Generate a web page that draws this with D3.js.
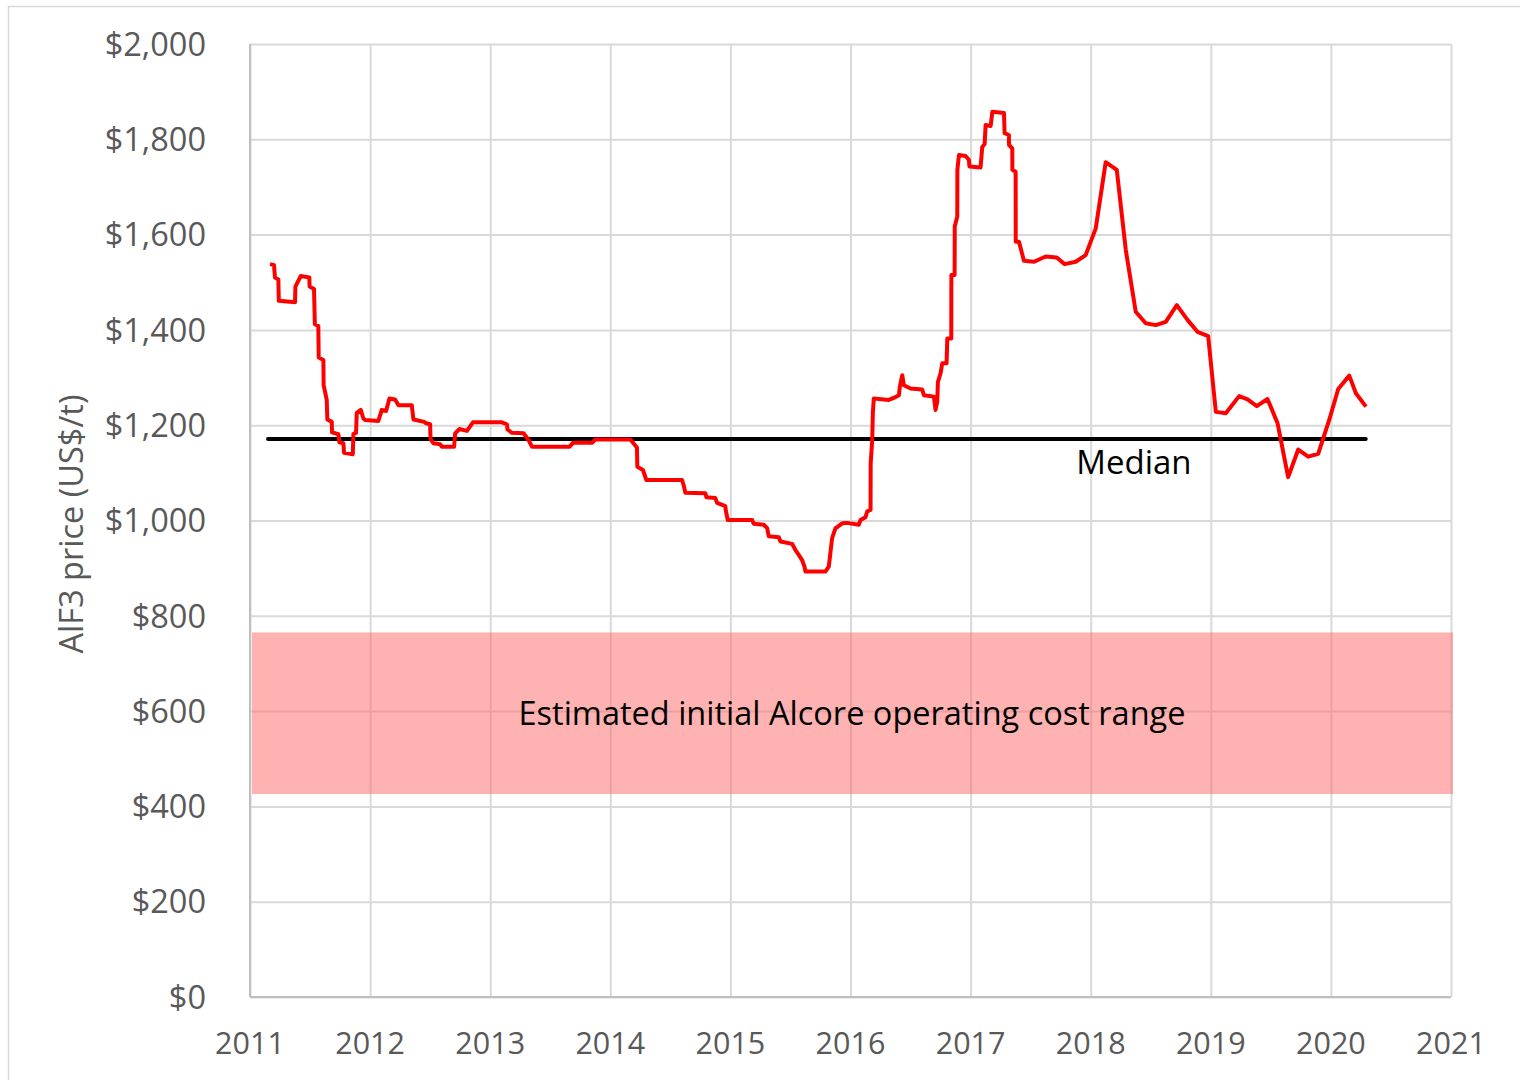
<!DOCTYPE html>
<html>
<head>
<meta charset="utf-8">
<script src="https://cdn.jsdelivr.net/npm/d3@7"></script>
<style>
  body { margin: 0; background: #fff; }
  text { font-family: "Open Sans", "Noto Sans", sans-serif; }
</style>
</head>
<body>
<svg id="chart"></svg>
<script>
// AlF3 price series, [decimal year, US$/t]
var priceDates = [2011.167, 2011.200, 2011.208, 2011.236, 2011.240, 2011.375, 2011.378, 2011.422, 2011.494, 2011.496,
  2011.533, 2011.540, 2011.569, 2011.572, 2011.611, 2011.613, 2011.639, 2011.644, 2011.681, 2011.683,
  2011.736, 2011.744, 2011.778, 2011.783, 2011.856, 2011.861, 2011.883, 2011.889, 2011.922, 2011.944,
  2011.958, 2012.069, 2012.097, 2012.133, 2012.161, 2012.208, 2012.236, 2012.347, 2012.361, 2012.450,
  2012.467, 2012.500, 2012.503, 2012.528, 2012.583, 2012.597, 2012.700, 2012.708, 2012.744, 2012.806,
  2012.856, 2013.097, 2013.139, 2013.144, 2013.181, 2013.278, 2013.319, 2013.347, 2013.661, 2013.689,
  2013.847, 2013.875, 2014.167, 2014.222, 2014.225, 2014.272, 2014.300, 2014.597, 2014.611, 2014.625,
  2014.792, 2014.800, 2014.875, 2014.889, 2014.958, 2014.961, 2014.978, 2015.181, 2015.194, 2015.278,
  2015.306, 2015.319, 2015.403, 2015.417, 2015.514, 2015.542, 2015.569, 2015.597, 2015.617, 2015.625,
  2015.792, 2015.819, 2015.847, 2015.875, 2015.894, 2015.931, 2015.972, 2016.069, 2016.083, 2016.125,
  2016.139, 2016.167, 2016.168, 2016.181, 2016.186, 2016.194, 2016.319, 2016.375, 2016.403, 2016.411,
  2016.431, 2016.444, 2016.500, 2016.597, 2016.611, 2016.694, 2016.708, 2016.722, 2016.728, 2016.750,
  2016.764, 2016.800, 2016.806, 2016.839, 2016.840, 2016.867, 2016.868, 2016.889, 2016.890, 2016.903,
  2016.958, 2016.986, 2016.990, 2017.083, 2017.097, 2017.117, 2017.125, 2017.167, 2017.181, 2017.278,
  2017.283, 2017.319, 2017.320, 2017.347, 2017.348, 2017.375, 2017.376, 2017.403, 2017.444, 2017.528,
  2017.625, 2017.717, 2017.783, 2017.875, 2017.958, 2018.042, 2018.125, 2018.217, 2018.292, 2018.375,
  2018.458, 2018.542, 2018.625, 2018.717, 2018.806, 2018.889, 2018.978, 2019.042, 2019.125, 2019.236,
  2019.306, 2019.383, 2019.472, 2019.556, 2019.644, 2019.728, 2019.811, 2019.894, 2019.986, 2020.061,
  2020.153, 2020.208, 2020.292];
var priceValues = [1538, 1536, 1510, 1506, 1461, 1458, 1491, 1513, 1510, 1491,
  1486, 1412, 1408, 1342, 1337, 1284, 1253, 1212, 1207, 1185,
  1181, 1164, 1162, 1142, 1139, 1182, 1184, 1226, 1232, 1214,
  1211, 1209, 1232, 1230, 1256, 1254, 1242, 1242, 1212, 1207,
  1204, 1202, 1171, 1162, 1160, 1155, 1155, 1183, 1192, 1188,
  1206, 1206, 1202, 1191, 1184, 1183, 1169, 1155, 1155, 1163,
  1163, 1170, 1170, 1153, 1113, 1106, 1085, 1085, 1074, 1058,
  1057, 1049, 1047, 1037, 1030, 1022, 1001, 1001, 993, 991,
  984, 967, 965, 956, 951, 938, 928, 917, 903, 893,
  893, 903, 963, 984, 987, 994, 995, 991, 1001, 1007,
  1019, 1022, 1120, 1169, 1225, 1256, 1253, 1259, 1263, 1281,
  1305, 1284, 1277, 1275, 1263, 1260, 1232, 1249, 1291, 1309,
  1330, 1330, 1382, 1382, 1515, 1515, 1617, 1638, 1736, 1767,
  1765, 1757, 1743, 1741, 1784, 1790, 1830, 1828, 1858, 1855,
  1813, 1809, 1788, 1781, 1736, 1732, 1585, 1585, 1545, 1543,
  1554, 1552, 1538, 1543, 1557, 1613, 1752, 1736, 1568, 1438,
  1414, 1410, 1417, 1452, 1421, 1396, 1387, 1228, 1225, 1261,
  1254, 1240, 1255, 1204, 1091, 1149, 1134, 1140, 1211, 1276,
  1304, 1267, 1239];

var medianValue = 1171;
var medianSpan = [2011.15, 2020.29];
var costRange = [426, 765];
var yearTicks = [2011, 2012, 2013, 2014, 2015, 2016, 2017, 2018, 2019, 2020, 2021];
var priceTicks = [0, 200, 400, 600, 800, 1000, 1200, 1400, 1600, 1800, 2000];

var width = 1520, height = 1080;
var plot = { left: 250, right: 1451, top: 44, bottom: 997 };

var svg = d3.select('#chart')
            .attr('width', width)
            .attr('height', height);

svg.append('rect')
    .attr('x', 8.5).attr('y', 6.5)
    .attr('width', width).attr('height', height)
    .attr('fill', 'none')
    .attr('stroke', '#d9d9d9')
    .attr('stroke-width', 1.5);

var x = d3.scaleLinear().domain([2011, 2021]).range([plot.left, plot.right]);
var y = d3.scaleLinear().domain([0, 2000]).range([plot.bottom, plot.top]);

// grid
svg.append('g')
    .attr('transform', `translate(0,${plot.bottom})`)
    .call(d3.axisBottom(x).tickValues(yearTicks).tickSize(-(plot.bottom - plot.top)).tickFormat(''))
    .call(g => g.select('.domain').remove())
    .selectAll('line')
        .attr('stroke', '#d9d9d9')
        .attr('stroke-width', 2);

svg.append('g')
    .attr('transform', `translate(${plot.left},0)`)
    .call(d3.axisLeft(y).tickValues(priceTicks).tickSize(-(plot.right - plot.left)).tickFormat(''))
    .call(g => g.select('.domain').remove())
    .selectAll('line')
        .attr('stroke', '#d9d9d9')
        .attr('stroke-width', 2);

// axis lines
svg.append('line')
    .attr('x1', plot.left).attr('x2', plot.left)
    .attr('y1', plot.top).attr('y2', plot.bottom)
    .attr('stroke', '#bfbfbf').attr('stroke-width', 2);
svg.append('line')
    .attr('x1', plot.left).attr('x2', plot.right)
    .attr('y1', plot.bottom).attr('y2', plot.bottom)
    .attr('stroke', '#bfbfbf').attr('stroke-width', 2);

// tick labels
svg.append('g').selectAll('text')
    .data(yearTicks)
    .enter().append('text')
        .attr('x', d => x(d))
        .attr('y', 1054)
        .attr('text-anchor', 'middle')
        .attr('fill', '#595959')
        .style('font-size', '30.5px')
        .text(d => d);

svg.append('g').selectAll('text')
    .data(priceTicks)
    .enter().append('text')
        .attr('x', 206)
        .attr('y', d => y(d))
        .attr('dy', '0.36em')
        .attr('text-anchor', 'end')
        .attr('fill', '#595959')
        .style('font-size', '32.5px')
        .text(d => '$' + d3.format(',')(d));

svg.append('text')
    .attr('transform', 'translate(83,524) rotate(-90)')
    .attr('text-anchor', 'middle')
    .attr('fill', '#595959')
    .style('font-size', '32.5px')
    .text('AlF3 price (US$/t)');

// operating cost band
svg.append('rect')
    .attr('x', x(2011) + 2)
    .attr('width', x(2021) - x(2011))
    .attr('y', y(costRange[1]))
    .attr('height', y(costRange[0]) - y(costRange[1]))
    .attr('fill', '#ff6666')
    .attr('fill-opacity', 0.5);

svg.append('text')
    .attr('x', 852)
    .attr('y', y((costRange[0] + costRange[1]) / 2))
    .attr('dy', '0.36em')
    .attr('text-anchor', 'middle')
    .attr('fill', '#000')
    .style('font-size', '32.5px')
    .text('Estimated initial Alcore operating cost range');

// median
svg.append('line')
    .attr('x1', x(medianSpan[0])).attr('x2', x(medianSpan[1]))
    .attr('y1', y(medianValue)).attr('y2', y(medianValue))
    .attr('stroke', '#000')
    .attr('stroke-width', 4)
    .attr('stroke-linecap', 'round');

svg.append('text')
    .attr('x', x(2017.88))
    .attr('y', 474)
    .attr('fill', '#000')
    .style('font-size', '33px')
    .text('Median');

// price line
var line = d3.line()
    .x(d => x(d[0]))
    .y(d => y(d[1]));

svg.append('path')
    .datum(priceDates.map((d, i) => [d, priceValues[i]]))
    .attr('d', line)
    .attr('fill', 'none')
    .attr('stroke', '#ff0000')
    .attr('stroke-width', 4)
    .attr('stroke-linejoin', 'round');
</script>
</body>
</html>
